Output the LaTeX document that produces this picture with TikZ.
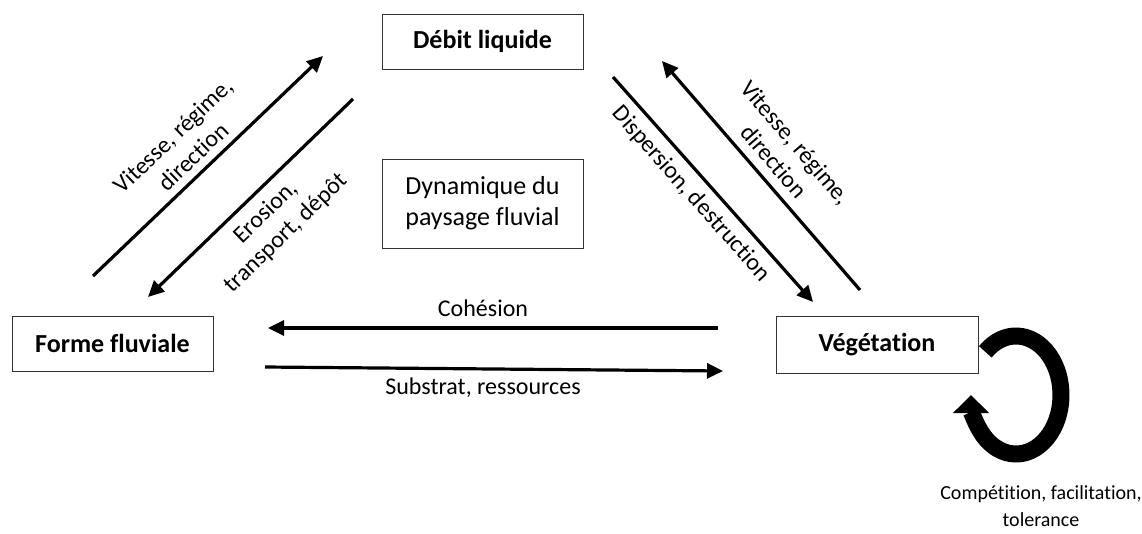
\documentclass[tikz,border=0pt]{standalone}
\usepackage{fontspec}
\setmainfont{Carlito}[Ligatures=CommonOff]
\usetikzlibrary{arrows.meta,positioning}

\begin{document}
\begin{tikzpicture}[x=1pt,y=-1pt,font=\fontsize{24}{29}\selectfont,
  box/.style={draw=black!80,line width=0.9pt,minimum width=201pt,minimum height=55pt,align=center,font=\fontsize{26}{31}\selectfont},
  flow/.style={line width=3.2pt,-{Triangle[length=16pt,width=15pt]}},
  lbl/.style={align=center,inner sep=0pt}]
\useasboundingbox (0,0) rectangle (1142,533);
% boxes
\node[box] (debit) at (482.5,41.5) {\textbf{Débit liquide}};
\node[box,minimum height=89pt] (dyn) at (482.5,203.5) {Dynamique du\\paysage fluvial};
\node[box] (forme) at (112.5,343.5) {\textbf{Forme fluviale}};
\node[box,minimum width=202pt,minimum height=57pt] (veg) at (877,344.5) {\textbf{Végétation}};
% arrow ends
\coordinate (a1) at (93,276);  \coordinate (a2) at (323,56);
\coordinate (b1) at (353,99);  \coordinate (b2) at (148,297);
\coordinate (c1) at (613,77);  \coordinate (c2) at (813,302);
\coordinate (d1) at (860,290); \coordinate (d2) at (662,61);
\coordinate (e1) at (718,328); \coordinate (e2) at (268,328);
\coordinate (f1) at (265,367); \coordinate (f2) at (723,371);
\coordinate (loop) at (1016,395);
\draw[flow] (a1) -- (a2);
\draw[flow] (b1) -- (b2);
\draw[flow] (c1) -- (c2);
\draw[flow] (d1) -- (d2);
\draw[flow] (e1) -- (e2);
\draw[flow] (f1) -- (f2);
\draw[line width=17pt,-{Triangle[length=18pt,width=35pt]}] (loop) ++(-133:45 and 59)
  arc[start angle=-133,end angle=180,x radius=45,y radius=59];
% labels
\node[lbl,rotate=43.7] (vit1) at (183,146) {Vitesse, régime,\\direction};
\node[lbl,rotate=44] (eros) at (276,223) {Erosion,\\transport, dépôt};
\node[lbl,rotate=-49.2] (vit2) at (785,152) {Vitesse, régime,\\direction};
\node[lbl,rotate=-48.4] (disp) at (691,194) {Dispersion, destruction};
\node[lbl] (coh) at (483,308) {Cohésion};
\node[lbl] (sub) at (483,388) {Substrat, ressources};
\node[lbl,font=\fontsize{20}{27}\selectfont] (comp) at (1041,506) {Compétition, facilitation,\\tolerance};
\end{tikzpicture}
\end{document}
